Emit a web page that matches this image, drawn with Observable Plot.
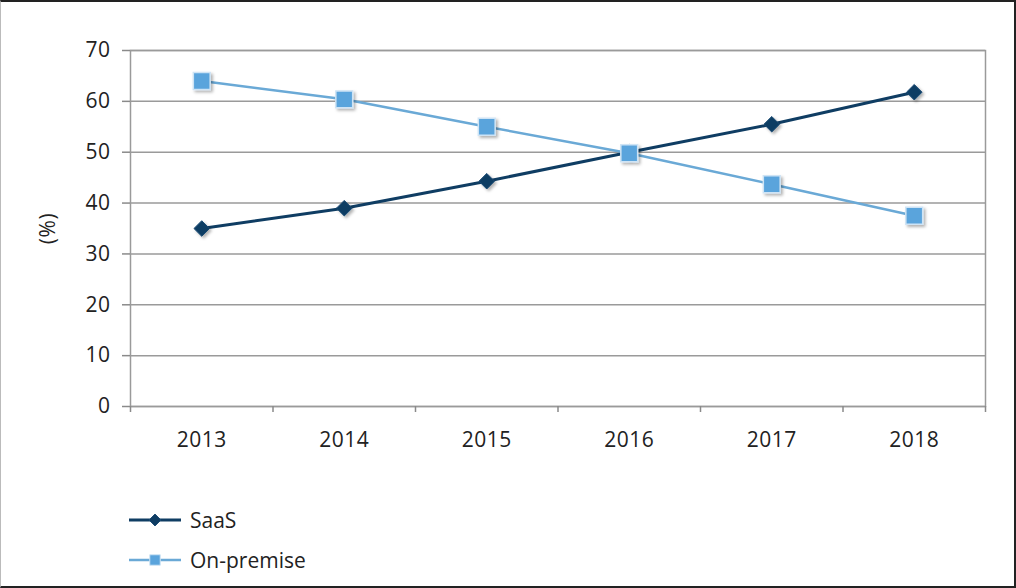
<!DOCTYPE html>
<html>
<head>
<meta charset="utf-8">
<script src="https://cdn.jsdelivr.net/npm/d3@7"></script>
<script src="https://cdn.jsdelivr.net/npm/@observablehq/plot@0.6"></script>
<style>
  html, body { margin: 0; padding: 0; background: #fff; }
  #frame {
    width: 1016px; height: 588px; box-sizing: border-box; position: relative;
    border-top: 2px solid #222; border-right: 2px solid #222; border-bottom: 2px solid #222; border-left: 1px solid #bbb;
    font-family: "Open Sans", "DejaVu Sans", sans-serif; color: #222; overflow: hidden;
  }
  #chart svg { display: block; }
  #chart svg text { font-size: 21px; fill: #222; letter-spacing: 0.5px; }
  #legend { position: absolute; left: 127px; top: 498px; font-size: 21px; }
  .item { display: flex; align-items: center; height: 40px; }
  .item svg { margin-right: 8px; }
</style>
</head>
<body>
<div id="frame">
  <div id="chart"></div>
  <div id="legend"></div>
</div>
<script>
const years = [2013, 2014, 2015, 2016, 2017, 2018];
const saas = [35, 39, 44.3, 50, 55.5, 61.8];
const onPremise = [64, 60.4, 55, 49.8, 43.7, 37.5];
const yTicks = [0, 10, 20, 30, 40, 50, 60, 70];
const seriesNames = ["SaaS", "On-premise"];
const colors = { "SaaS": "#0f3d63", "On-premise": "#5aa4dc" };
const lineColors = { "SaaS": "#0f3d63", "On-premise": "#6aa9d6" };

const rows = [
  ...years.map((y, i) => ({ year: y, value: saas[i], series: "SaaS" })),
  ...years.map((y, i) => ({ year: y, value: onPremise[i], series: "On-premise" }))
];
const boundaries = [...years.map(y => y - 0.5), years[years.length - 1] + 0.5];
const saasRows = rows.filter(d => d.series === "SaaS");
const onRows = rows.filter(d => d.series === "On-premise");

const plot = Plot.plot({
  width: 1013,
  height: 470,
  marginLeft: 129,
  marginRight: 29,
  marginTop: 48,
  marginBottom: 66,
  style: { fontFamily: "'Open Sans', 'DejaVu Sans', sans-serif", fontSize: "21px", color: "#222", background: "#fff" },
  x: { domain: [years[0] - 0.5, years[years.length - 1] + 0.5] },
  y: { domain: [0, 70] },
  marks: [
    Plot.gridY(yTicks, { stroke: "#9a9a9a", strokeOpacity: 1, strokeWidth: 1.5 }),
    Plot.frame({ stroke: "#9a9a9a", strokeWidth: 1.5 }),
    Plot.axisY(yTicks, { tickSize: 8, tickPadding: 12, stroke: "#8a8a8a", strokeWidth: 1.5, label: "(%)", labelAnchor: "center", labelOffset: 90, labelArrow: "none" }),
    Plot.axisX(boundaries, { tickSize: 6, tickFormat: () => "", stroke: "#8a8a8a", strokeWidth: 1.5, label: null }),
    Plot.axisX(years, { tickSize: 0, tickPadding: 26, tickFormat: d => String(d), label: null }),
    Plot.lineY(saasRows, { x: "year", y: "value", stroke: lineColors["SaaS"], strokeWidth: 3 }),
    Plot.dot(saasRows, { x: "year", y: "value", symbol: "diamond2", r: 7, fill: colors["SaaS"], stroke: "#1a4a73", strokeWidth: 1 }),
    Plot.lineY(onRows, { x: "year", y: "value", stroke: lineColors["On-premise"], strokeWidth: 2.5 }),
    Plot.dot(onRows, { x: "year", y: "value", symbol: "square", r: 9.5, fill: colors["On-premise"], stroke: "#cfe4f5", strokeWidth: 1.5 })
  ]
});

// soft drop shadow on markers, like the original
const svg = d3.select(plot);
const defs = svg.insert("defs", ":first-child");
const f = defs.append("filter").attr("id", "shadow").attr("x", "-50%").attr("y", "-50%").attr("width", "200%").attr("height", "200%");
f.append("feDropShadow").attr("dx", 2).attr("dy", 2).attr("stdDeviation", 1.5).attr("flood-color", "#000").attr("flood-opacity", 0.3);
svg.selectAll("g[aria-label='dot'] path").attr("filter", "url(#shadow)");

document.getElementById("chart").appendChild(plot);

// legend
const legend = d3.select("#legend");
seriesNames.forEach(name => {
  const item = legend.append("div").attr("class", "item");
  const s = item.append("svg").attr("width", 54).attr("height", 20);
  s.append("line").attr("x1", 1).attr("x2", 53).attr("y1", 10).attr("y2", 10)
    .attr("stroke", lineColors[name]).attr("stroke-width", name === "SaaS" ? 3 : 2.5);
  const sym = name === "SaaS" ? d3.symbolDiamond2 : d3.symbolSquare;
  const size = name === "SaaS" ? 90 : 110;
  s.append("path").attr("d", d3.symbol(sym, size)()).attr("transform", "translate(27,10)")
    .attr("fill", colors[name]).attr("stroke", name === "SaaS" ? "#1a4a73" : "#cfe4f5");
  item.append("span").text(name);
});
</script>
</body>
</html>
